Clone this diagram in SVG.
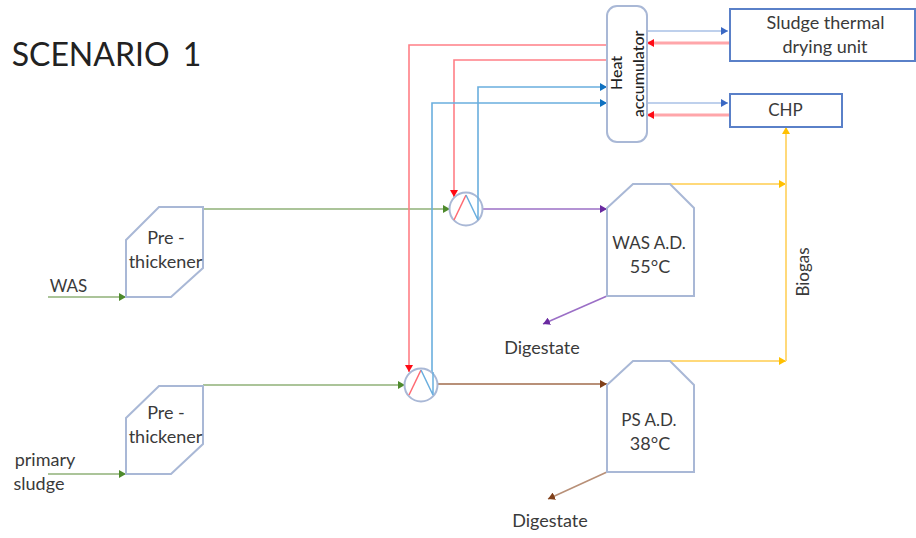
<svg xmlns="http://www.w3.org/2000/svg" width="916" height="538" viewBox="0 0 916 538">
<style>
text{font-family:"Lato","Open Sans","Liberation Sans",sans-serif;font-size:18px;fill:#3a3a3a;text-anchor:middle}
.s{font-size:17px}
.n{fill:#fff;stroke:#a9b8d6;stroke-width:2}
.b{fill:#fff;stroke:#5a80c8;stroke-width:2}
.c{fill:none}
.g{stroke:#8fb077;stroke-width:1.4}
.r{stroke:#ff7f86;stroke-width:1.6}
.r2{stroke:#ffa6aa;stroke-width:3}
.bl{stroke:#6aaede;stroke-width:1.6}
.bd{stroke:#a9c0e6;stroke-width:1.6}
.p{stroke:#9b6fc6;stroke-width:1.6}
.br{stroke:#b89078;stroke-width:2}
.y{stroke:#ffd97a;stroke-width:2}
</style>
<defs>
<marker id="ag" markerUnits="userSpaceOnUse" markerWidth="8" markerHeight="8" refX="7" refY="4" orient="auto"><path d="M0 0L7 4L0 8Z" fill="#4e8a2c"/></marker>
<marker id="ar" markerUnits="userSpaceOnUse" markerWidth="8" markerHeight="8" refX="7" refY="4" orient="auto"><path d="M0 0L7 4L0 8Z" fill="#ff0a14"/></marker>
<marker id="abl" markerUnits="userSpaceOnUse" markerWidth="8" markerHeight="8" refX="7" refY="4" orient="auto"><path d="M0 0L7 4L0 8Z" fill="#0f70c0"/></marker>
<marker id="abd" markerUnits="userSpaceOnUse" markerWidth="8" markerHeight="8" refX="7" refY="4" orient="auto"><path d="M0 0L7 4L0 8Z" fill="#3a68c4"/></marker>
<marker id="ap" markerUnits="userSpaceOnUse" markerWidth="8" markerHeight="8" refX="7" refY="4" orient="auto"><path d="M0 0L7 4L0 8Z" fill="#6a2aa0"/></marker>
<marker id="abr" markerUnits="userSpaceOnUse" markerWidth="8" markerHeight="8" refX="7" refY="4" orient="auto"><path d="M0 0L7 4L0 8Z" fill="#80401a"/></marker>
<marker id="ay" markerUnits="userSpaceOnUse" markerWidth="8" markerHeight="8" refX="7" refY="4" orient="auto"><path d="M0 0L7 4L0 8Z" fill="#ffc000"/></marker>
</defs>
<text x="106.5" y="66" style="font-size:32px;fill:#222;word-spacing:5px">SCENARIO 1</text>
<g id="connectors" class="c">
<path class="c g" d="M48 297H126" marker-end="url(#ag)"/>
<path class="c g" d="M48 474H126" marker-end="url(#ag)"/>
<path class="c g" d="M203 209H450" marker-end="url(#ag)"/>
<path class="c g" d="M203 385H405" marker-end="url(#ag)"/>
<path class="c r" d="M607 45H409V372" marker-end="url(#ar)"/>
<path class="c r" d="M607 60H454V197" marker-end="url(#ar)"/>
<path class="c bl" d="M478 195V87H607" marker-end="url(#abl)"/>
<path class="c bl" d="M432 372V103H607" marker-end="url(#abl)"/>
<path class="c bd" d="M647 31H728" marker-end="url(#abd)"/>
<path class="c bd" d="M647 103H728" marker-end="url(#abd)"/>
<path class="c r2" d="M730 43H647" marker-end="url(#ar)"/>
<path class="c r2" d="M730 115H647" marker-end="url(#ar)"/>
<path class="c p" d="M483 209H607" marker-end="url(#ap)"/>
<path class="c br" d="M438 384H607" marker-end="url(#abr)"/>
<path class="c y" d="M670 184H786" marker-end="url(#ay)"/>
<path class="c y" d="M670 361H786" marker-end="url(#ay)"/>
<path class="c y" d="M786 361V127" marker-end="url(#ay)"/>
<path class="c p" d="M607 296L543 324" marker-end="url(#ap)"/>
<path class="c br" style="stroke-width:1.6" d="M607 472L548 499" marker-end="url(#abr)"/>
</g>
<g id="accumulator"><rect class="n" x="607" y="6" width="40" height="136" rx="10"/>
<text transform="translate(622 73) rotate(-90)" style="font-size:16px;fill:#222;font-weight:500">Heat</text>
<text transform="translate(644 74) rotate(-90)" style="font-size:16px;fill:#222;font-weight:500">accumulator</text></g>
<g id="drying"><rect class="b" x="730" y="9" width="185" height="52"/><text x="825.5" y="29">Sludge thermal</text><text x="825" y="53">drying unit</text></g>
<g id="chp"><rect class="b" x="730" y="94" width="112" height="33"/><text class="s" x="785.5" y="116">CHP</text></g>
<g id="hx1"><circle class="n" cx="466" cy="209" r="16.5"/><path class="c" stroke="#ff6a72" stroke-width="1.5" d="M454 220L466 195"/><path class="c" stroke="#6aaede" stroke-width="1.5" d="M466 195L478 220V195"/></g>
<g id="hx2"><circle class="n" cx="421" cy="385" r="16.5"/><path class="c" stroke="#ff6a72" stroke-width="1.5" d="M409 395L421 370"/><path class="c" stroke="#6aaede" stroke-width="1.5" d="M421 370L433 395V372"/></g>
<g id="pre1"><path class="n" d="M126 240L159 207H203V268L171 297H126Z"/><text x="166" y="244">Pre -</text><text x="165.5" y="268">thickener</text></g>
<g id="pre2"><path class="n" d="M126 418L159 386H203V444L171 474H126Z"/><text x="166" y="419">Pre -</text><text x="165.5" y="443">thickener</text></g>
<g id="was-ad"><path class="n" d="M607 208L633 184H670L694 208V296H607Z"/><text class="s" x="649" y="249">WAS A.D.</text><text x="650" y="273">55°C</text></g>
<g id="ps-ad"><path class="n" d="M607 385L633 361H670L694 385V472H607Z"/><text class="s" x="649" y="426">PS A.D.</text><text x="650" y="450">38°C</text></g>
<text class="s" x="68.5" y="292">WAS</text>
<text x="45" y="466">primary</text>
<text x="39" y="490">sludge</text>
<text x="542" y="354">Digestate</text>
<text x="550" y="527">Digestate</text>
<text class="s" transform="translate(809 272) rotate(-90)">Biogas</text>
</svg>
